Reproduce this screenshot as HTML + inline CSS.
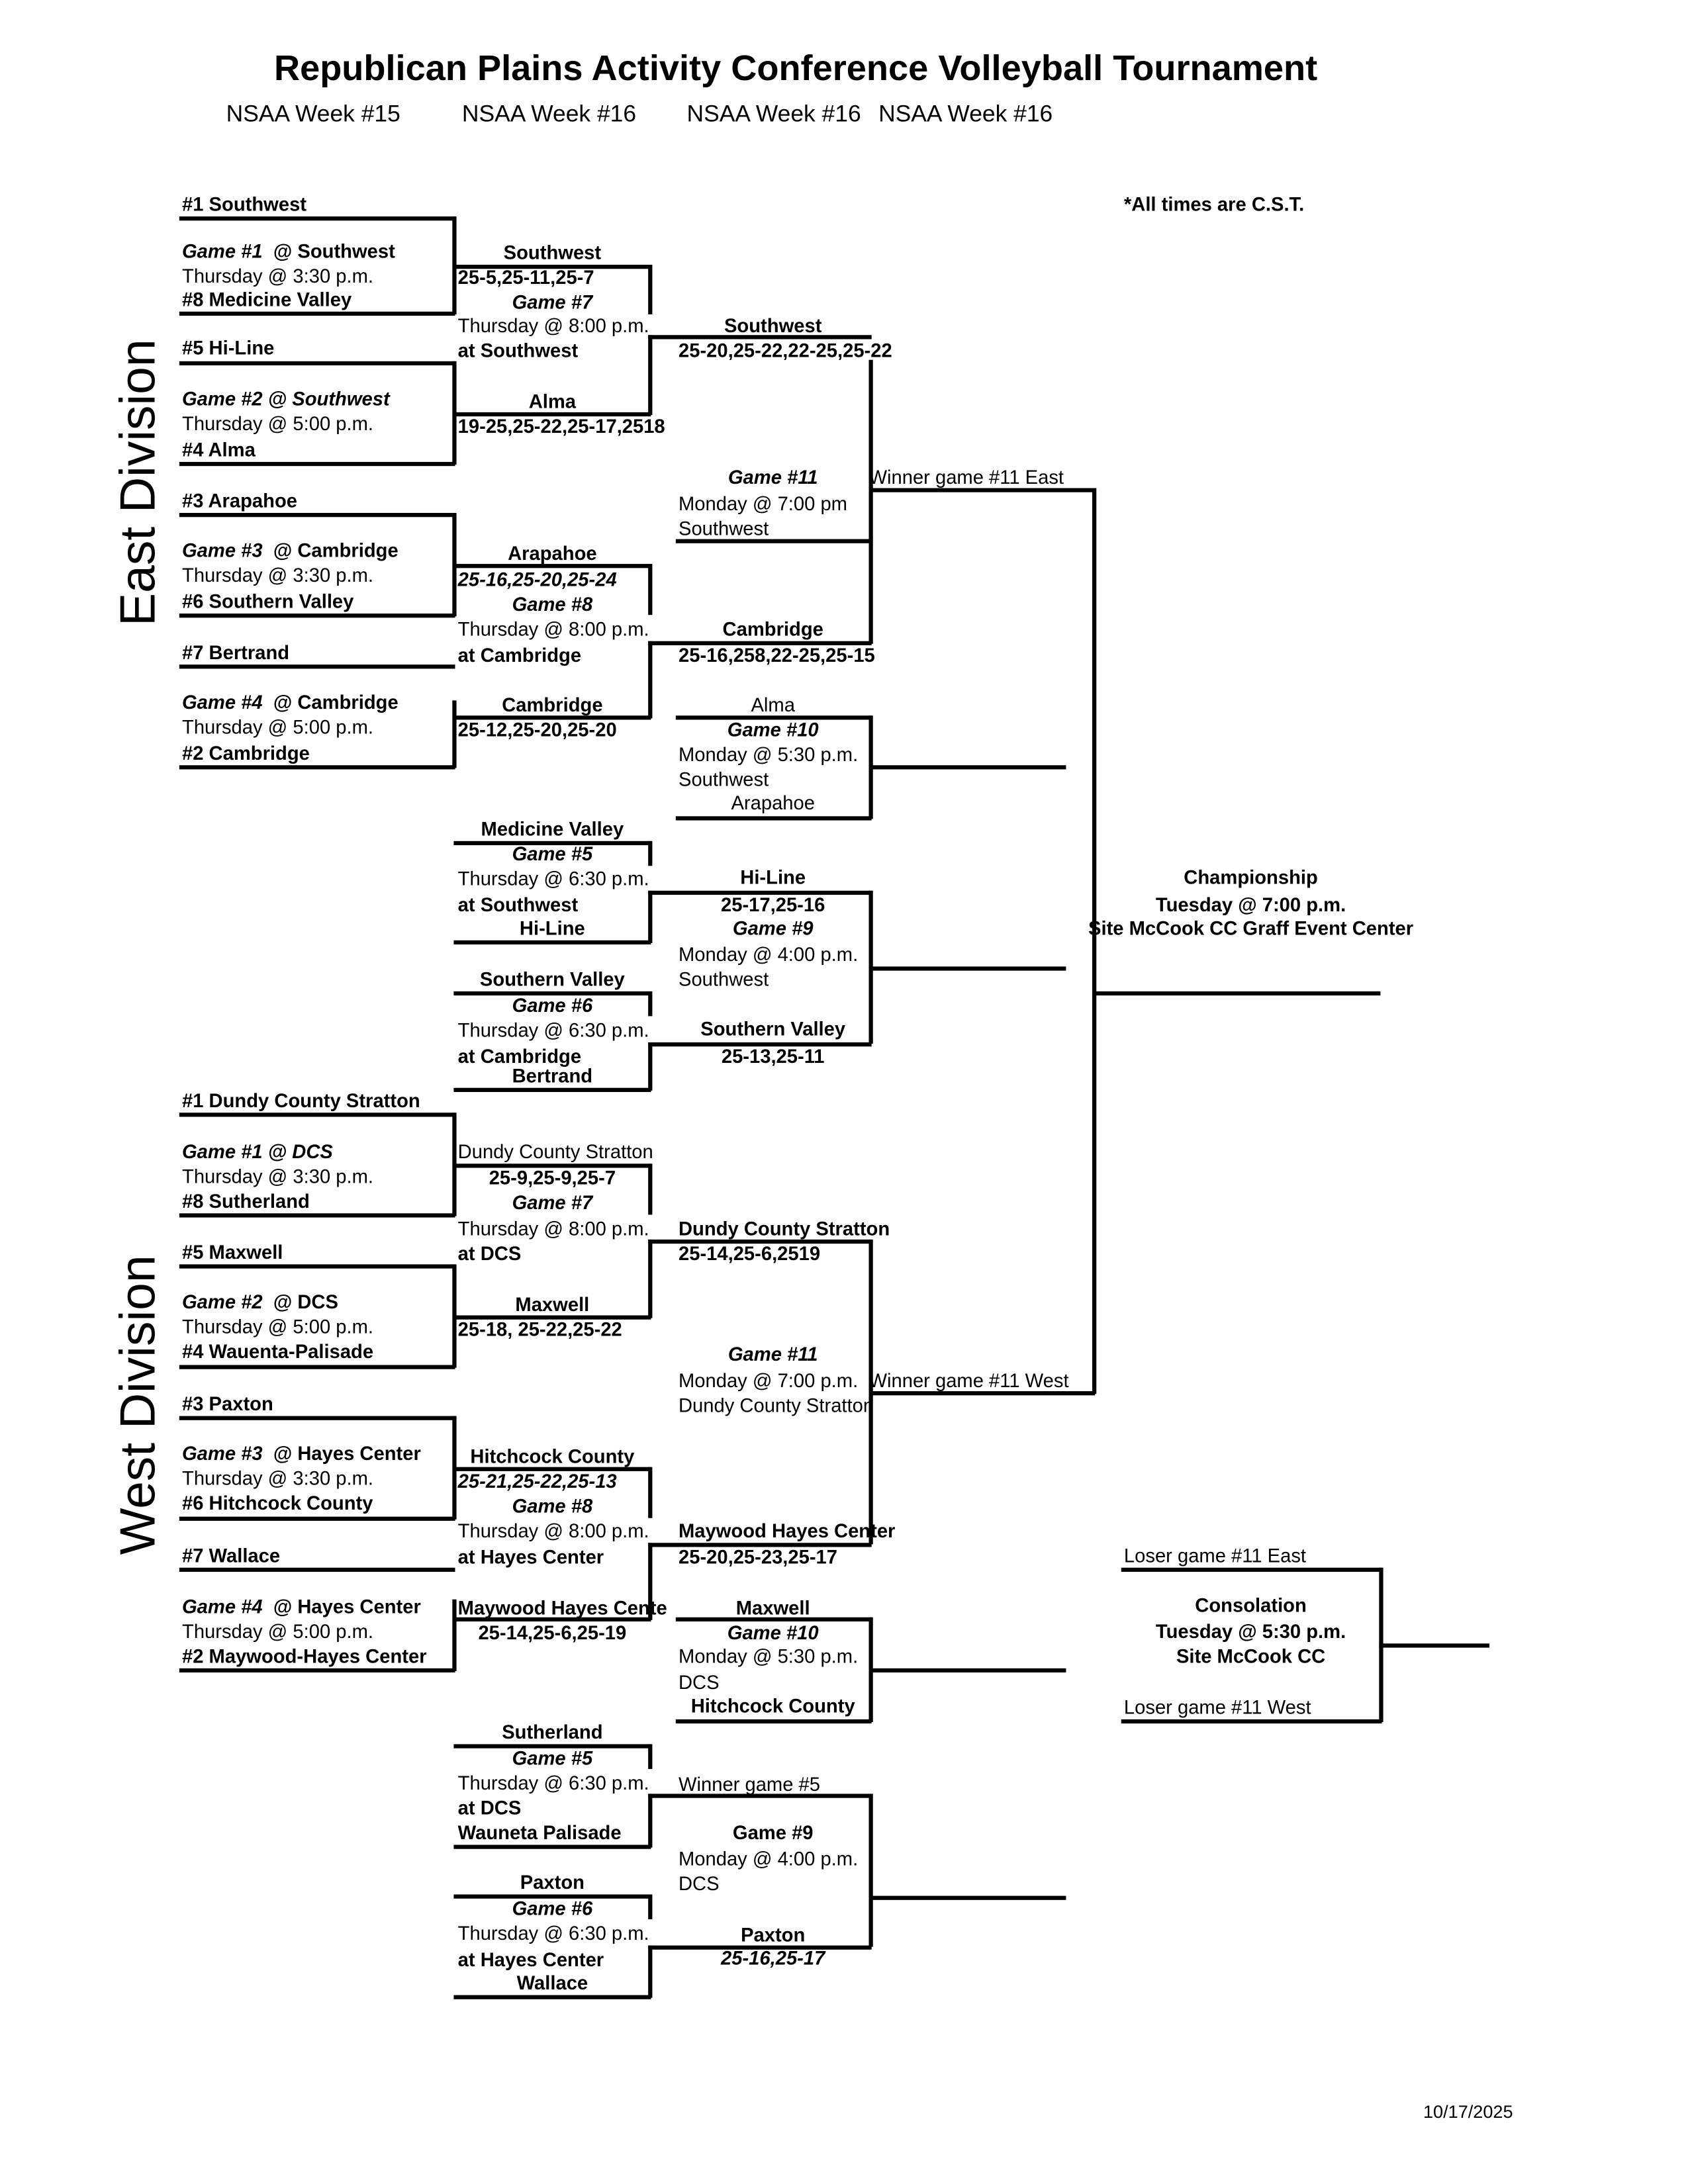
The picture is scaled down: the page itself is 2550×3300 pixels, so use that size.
<!DOCTYPE html>
<html><head><meta charset="utf-8">
<style>
html,body{margin:0;padding:0;background:#fff;}
#page{position:relative;width:2550px;height:3300px;overflow:hidden;background:#fff;}
#s{position:absolute;left:0;top:0;width:1224px;height:1584px;transform:scale(2.08333);transform-origin:0 0;font-family:"Liberation Sans",Arial,sans-serif;color:#000;}
.t{position:absolute;font-size:14px;line-height:18px;white-space:nowrap;}
.b{font-weight:bold;}
.i{font-style:italic;}
.c{text-align:center;}
.h{position:absolute;height:2.6px;background:#000;}
.v{position:absolute;width:2.6px;background:#000;}
</style></head><body><div id="page"><div id="s">

<div class="t b c" style="left:0;width:1154px;top:34px;font-size:26px;line-height:30px;">Republican Plains Activity Conference Volleyball Tournament</div>
<div class="t" style="left:164px;top:73px;font-size:17px;line-height:20px;">NSAA Week #15</div>
<div class="t" style="left:335px;top:73px;font-size:17px;line-height:20px;">NSAA Week #16</div>
<div class="t" style="left:498px;top:73px;font-size:17px;line-height:20px;">NSAA Week #16</div>
<div class="t" style="left:637px;top:73px;font-size:17px;line-height:20px;">NSAA Week #16</div>
<div class="t b" style="left:815px;top:139px;">*All times are C.S.T.</div>
<div class="t" style="left:1032px;top:1523px;font-size:13px;">10/17/2025</div>

<div class="t" style="left:100px;top:350px;font-size:36px;line-height:40px;transform:translate(-50%,-50%) rotate(-90deg);">East Division</div>
<div class="t" style="left:100px;top:1019px;font-size:36px;line-height:40px;transform:translate(-50%,-50%) rotate(-90deg);">West Division</div>

<!-- EAST col1 -->
<div class="t b" style="left:132px;top:139px;">#1 Southwest</div>
<div class="h" style="left:130px;width:200px;top:157px;"></div>
<div class="v" style="left:328px;top:157px;height:71px;"></div>
<div class="t" style="left:132px;top:173px;"><span class="b i">Game #1</span> <span class="b">&nbsp;@ Southwest</span></div>
<div class="t" style="left:132px;top:191px;">Thursday @ 3:30 p.m.</div>
<div class="t b" style="left:132px;top:208px;">#8 Medicine Valley</div>
<div class="h" style="left:130px;width:200px;top:226px;"></div>

<div class="t b" style="left:132px;top:243px;">#5 Hi-Line</div>
<div class="h" style="left:130px;width:200px;top:262px;"></div>
<div class="v" style="left:328px;top:262px;height:75px;"></div>
<div class="t b i" style="left:132px;top:280px;">Game #2 @ Southwest</div>
<div class="t" style="left:132px;top:298px;">Thursday @ 5:00 p.m.</div>
<div class="t b" style="left:132px;top:317px;">#4 Alma</div>
<div class="h" style="left:130px;width:200px;top:335px;"></div>

<div class="t b" style="left:132px;top:354px;">#3 Arapahoe</div>
<div class="h" style="left:130px;width:200px;top:372px;"></div>
<div class="v" style="left:328px;top:372px;height:75px;"></div>
<div class="t" style="left:132px;top:390px;"><span class="b i">Game #3</span> <span class="b">&nbsp;@ Cambridge</span></div>
<div class="t" style="left:132px;top:408px;">Thursday @ 3:30 p.m.</div>
<div class="t b" style="left:132px;top:427px;">#6 Southern Valley</div>
<div class="h" style="left:130px;width:200px;top:445px;"></div>

<div class="t b" style="left:132px;top:464px;">#7 Bertrand</div>
<div class="h" style="left:130px;width:200px;top:482px;"></div>
<div class="v" style="left:328px;top:508px;height:49px;"></div>
<div class="t" style="left:132px;top:500px;"><span class="b i">Game #4</span> <span class="b">&nbsp;@ Cambridge</span></div>
<div class="t" style="left:132px;top:518px;">Thursday @ 5:00 p.m.</div>
<div class="t b" style="left:132px;top:537px;">#2 Cambridge</div>
<div class="h" style="left:130px;width:200px;top:555px;"></div>

<!-- EAST col2 -->
<div class="t b c" style="left:330px;width:141px;top:174px;">Southwest</div>
<div class="h" style="left:329px;width:143px;top:192px;"></div>
<div class="v" style="left:470px;top:192px;height:36px;"></div>
<div class="t b" style="left:332px;top:192px;">25-5,25-11,25-7</div>
<div class="t b i c" style="left:330px;width:141px;top:210px;">Game #7</div>
<div class="t" style="left:332px;top:227px;">Thursday @ 8:00 p.m.</div>
<div class="t b" style="left:332px;top:245px;">at Southwest</div>
<div class="v" style="left:470px;top:243px;height:58px;"></div>
<div class="t b c" style="left:330px;width:141px;top:282px;">Alma</div>
<div class="h" style="left:329px;width:143px;top:299px;"></div>
<div class="t b" style="left:332px;top:300px;">19-25,25-22,25-17,2518</div>

<div class="t b c" style="left:330px;width:141px;top:392px;">Arapahoe</div>
<div class="h" style="left:329px;width:143px;top:409px;"></div>
<div class="v" style="left:470px;top:409px;height:37px;"></div>
<div class="t b i" style="left:332px;top:411px;">25-16,25-20,25-24</div>
<div class="t b i c" style="left:330px;width:141px;top:429px;">Game #8</div>
<div class="t" style="left:332px;top:447px;">Thursday @ 8:00 p.m.</div>
<div class="t b" style="left:332px;top:466px;">at Cambridge</div>
<div class="v" style="left:470px;top:465px;height:56px;"></div>
<div class="t b c" style="left:330px;width:141px;top:502px;">Cambridge</div>
<div class="h" style="left:329px;width:143px;top:519px;"></div>
<div class="t b" style="left:332px;top:520px;">25-12,25-20,25-20</div>

<div class="t b c" style="left:330px;width:141px;top:592px;">Medicine Valley</div>
<div class="h" style="left:329px;width:143px;top:610px;"></div>
<div class="v" style="left:470px;top:610px;height:18px;"></div>
<div class="t b i c" style="left:330px;width:141px;top:610px;">Game #5</div>
<div class="t" style="left:332px;top:628px;">Thursday @ 6:30 p.m.</div>
<div class="t b" style="left:332px;top:647px;">at Southwest</div>
<div class="v" style="left:470px;top:646px;height:38px;"></div>
<div class="t b c" style="left:330px;width:141px;top:664px;">Hi-Line</div>
<div class="h" style="left:329px;width:143px;top:682px;"></div>

<div class="t b c" style="left:330px;width:141px;top:701px;">Southern Valley</div>
<div class="h" style="left:329px;width:143px;top:719px;"></div>
<div class="v" style="left:470px;top:719px;height:18px;"></div>
<div class="t b i c" style="left:330px;width:141px;top:720px;">Game #6</div>
<div class="t" style="left:332px;top:738px;">Thursday @ 6:30 p.m.</div>
<div class="t b" style="left:332px;top:757px;">at Cambridge</div>
<div class="v" style="left:470px;top:756px;height:35px;"></div>
<div class="t b c" style="left:330px;width:141px;top:771px;">Bertrand</div>
<div class="h" style="left:329px;width:143px;top:789px;"></div>

<!-- EAST col3 -->
<div class="t b c" style="left:490px;width:141px;top:227px;">Southwest</div>
<div class="h" style="left:470px;width:162px;top:243px;"></div>
<div class="t b" style="left:492px;top:245px;">25-20,25-22,22-25,25-22</div>
<div class="v" style="left:630px;top:261px;height:206px;"></div>
<div class="t b i c" style="left:490px;width:141px;top:337px;">Game #11</div>
<div class="t" style="left:492px;top:356px;">Monday @ 7:00 pm</div>
<div class="t" style="left:492px;top:374px;">Southwest</div>
<div class="h" style="left:490px;width:142px;top:391px;"></div>
<div class="t b c" style="left:490px;width:141px;top:447px;">Cambridge</div>
<div class="h" style="left:470px;width:162px;top:465px;"></div>
<div class="t b" style="left:492px;top:466px;">25-16,258,22-25,25-15</div>

<div class="t" style="left:630px;top:337px;">Winner game #11 East</div>
<div class="h" style="left:630px;width:164px;top:354px;"></div>
<div class="v" style="left:792px;top:354px;height:657px;"></div>
<div class="t" style="left:630px;top:992px;">Winner game #11 West</div>
<div class="h" style="left:630px;width:164px;top:1009px;"></div>

<div class="t b c" style="left:780px;width:254px;top:627px;">Championship</div>
<div class="t b c" style="left:780px;width:254px;top:647px;">Tuesday @ 7:00 p.m.</div>
<div class="t b c" style="left:780px;width:254px;top:664px;">Site McCook CC Graff Event Center</div>
<div class="h" style="left:792px;width:209px;top:719px;"></div>

<div class="t c" style="left:490px;width:141px;top:502px;">Alma</div>
<div class="h" style="left:490px;width:142px;top:519px;"></div>
<div class="v" style="left:630px;top:519px;height:75px;"></div>
<div class="t b i c" style="left:490px;width:141px;top:520px;">Game #10</div>
<div class="t" style="left:492px;top:538px;">Monday @ 5:30 p.m.</div>
<div class="t" style="left:492px;top:556px;">Southwest</div>
<div class="t c" style="left:490px;width:141px;top:573px;">Arapahoe</div>
<div class="h" style="left:490px;width:142px;top:592px;"></div>
<div class="h" style="left:630px;width:143px;top:555px;"></div>

<div class="t b c" style="left:490px;width:141px;top:627px;">Hi-Line</div>
<div class="h" style="left:470px;width:162px;top:646px;"></div>
<div class="v" style="left:630px;top:646px;height:111px;"></div>
<div class="t b c" style="left:490px;width:141px;top:647px;">25-17,25-16</div>
<div class="t b i c" style="left:490px;width:141px;top:664px;">Game #9</div>
<div class="t" style="left:492px;top:683px;">Monday @ 4:00 p.m.</div>
<div class="t" style="left:492px;top:701px;">Southwest</div>
<div class="t b c" style="left:490px;width:141px;top:737px;">Southern Valley</div>
<div class="h" style="left:470px;width:162px;top:756px;"></div>
<div class="t b c" style="left:490px;width:141px;top:757px;">25-13,25-11</div>
<div class="h" style="left:630px;width:143px;top:701px;"></div>

<!-- WEST col1 -->
<div class="t b" style="left:132px;top:789px;">#1 Dundy County Stratton</div>
<div class="h" style="left:130px;width:200px;top:807px;"></div>
<div class="v" style="left:328px;top:807px;height:75px;"></div>
<div class="t b i" style="left:132px;top:826px;">Game #1 @ DCS</div>
<div class="t" style="left:132px;top:844px;">Thursday @ 3:30 p.m.</div>
<div class="t b" style="left:132px;top:862px;">#8 Sutherland</div>
<div class="h" style="left:130px;width:200px;top:880px;"></div>

<div class="t b" style="left:132px;top:899px;">#5 Maxwell</div>
<div class="h" style="left:130px;width:200px;top:917px;"></div>
<div class="v" style="left:328px;top:917px;height:75px;"></div>
<div class="t" style="left:132px;top:935px;"><span class="b i">Game #2</span> <span class="b">&nbsp;@ DCS</span></div>
<div class="t" style="left:132px;top:953px;">Thursday @ 5:00 p.m.</div>
<div class="t b" style="left:132px;top:971px;">#4 Wauenta-Palisade</div>
<div class="h" style="left:130px;width:200px;top:990px;"></div>

<div class="t b" style="left:132px;top:1009px;">#3 Paxton</div>
<div class="h" style="left:130px;width:200px;top:1027px;"></div>
<div class="v" style="left:328px;top:1027px;height:75px;"></div>
<div class="t" style="left:132px;top:1045px;"><span class="b i">Game #3</span> <span class="b">&nbsp;@ Hayes Center</span></div>
<div class="t" style="left:132px;top:1063px;">Thursday @ 3:30 p.m.</div>
<div class="t b" style="left:132px;top:1081px;">#6 Hitchcock County</div>
<div class="h" style="left:130px;width:200px;top:1100px;"></div>

<div class="t b" style="left:132px;top:1119px;">#7 Wallace</div>
<div class="h" style="left:130px;width:200px;top:1137px;"></div>
<div class="v" style="left:328px;top:1160px;height:52px;"></div>
<div class="t" style="left:132px;top:1156px;"><span class="b i">Game #4</span> <span class="b">&nbsp;@ Hayes Center</span></div>
<div class="t" style="left:132px;top:1174px;">Thursday @ 5:00 p.m.</div>
<div class="t b" style="left:132px;top:1192px;">#2 Maywood-Hayes Center</div>
<div class="h" style="left:130px;width:200px;top:1210px;"></div>

<!-- WEST col2 -->
<div class="t" style="left:332px;top:826px;">Dundy County Stratton</div>
<div class="h" style="left:329px;width:143px;top:844px;"></div>
<div class="v" style="left:470px;top:844px;height:37px;"></div>
<div class="t b c" style="left:330px;width:141px;top:845px;">25-9,25-9,25-7</div>
<div class="t b i c" style="left:330px;width:141px;top:863px;">Game #7</div>
<div class="t" style="left:332px;top:882px;">Thursday @ 8:00 p.m.</div>
<div class="t b" style="left:332px;top:900px;">at DCS</div>
<div class="v" style="left:470px;top:899px;height:57px;"></div>
<div class="t b c" style="left:330px;width:141px;top:937px;">Maxwell</div>
<div class="h" style="left:329px;width:143px;top:954px;"></div>
<div class="t b" style="left:332px;top:955px;">25-18, 25-22,25-22</div>

<div class="t b c" style="left:330px;width:141px;top:1047px;">Hitchcock County</div>
<div class="h" style="left:329px;width:143px;top:1064px;"></div>
<div class="v" style="left:470px;top:1064px;height:37px;"></div>
<div class="t b i" style="left:332px;top:1065px;">25-21,25-22,25-13</div>
<div class="t b i c" style="left:330px;width:141px;top:1083px;">Game #8</div>
<div class="t" style="left:332px;top:1101px;">Thursday @ 8:00 p.m.</div>
<div class="t b" style="left:332px;top:1120px;">at Hayes Center</div>
<div class="v" style="left:470px;top:1119px;height:56px;"></div>
<div class="t b" style="left:332px;top:1157px;">Maywood Hayes Cente</div>
<div class="h" style="left:329px;width:143px;top:1173px;"></div>
<div class="t b c" style="left:330px;width:141px;top:1175px;">25-14,25-6,25-19</div>

<div class="t b c" style="left:330px;width:141px;top:1247px;">Sutherland</div>
<div class="h" style="left:329px;width:143px;top:1265px;"></div>
<div class="v" style="left:470px;top:1265px;height:18px;"></div>
<div class="t b i c" style="left:330px;width:141px;top:1266px;">Game #5</div>
<div class="t" style="left:332px;top:1284px;">Thursday @ 6:30 p.m.</div>
<div class="t b" style="left:332px;top:1302px;">at DCS</div>
<div class="t b" style="left:332px;top:1320px;">Wauneta Palisade</div>
<div class="v" style="left:470px;top:1301px;height:39px;"></div>
<div class="h" style="left:329px;width:143px;top:1338px;"></div>

<div class="t b c" style="left:330px;width:141px;top:1356px;">Paxton</div>
<div class="h" style="left:329px;width:143px;top:1374px;"></div>
<div class="v" style="left:470px;top:1374px;height:18px;"></div>
<div class="t b i c" style="left:330px;width:141px;top:1375px;">Game #6</div>
<div class="t" style="left:332px;top:1393px;">Thursday @ 6:30 p.m.</div>
<div class="t b" style="left:332px;top:1412px;">at Hayes Center</div>
<div class="v" style="left:470px;top:1411px;height:38px;"></div>
<div class="t b c" style="left:330px;width:141px;top:1429px;">Wallace</div>
<div class="h" style="left:329px;width:143px;top:1447px;"></div>

<!-- WEST col3 -->
<div class="t b" style="left:492px;top:882px;">Dundy County Stratton</div>
<div class="h" style="left:470px;width:162px;top:899px;"></div>
<div class="t b" style="left:492px;top:900px;">25-14,25-6,2519</div>
<div class="v" style="left:630px;top:899px;height:221px;"></div>
<div class="t b i c" style="left:490px;width:141px;top:973px;">Game #11</div>
<div class="t" style="left:492px;top:992px;">Monday @ 7:00 p.m.</div>
<div class="t" style="left:492px;top:1010px;">Dundy County Stratton</div>
<div class="t b" style="left:492px;top:1101px;">Maywood Hayes Center</div>
<div class="h" style="left:470px;width:162px;top:1119px;"></div>
<div class="t b" style="left:492px;top:1120px;">25-20,25-23,25-17</div>

<div class="t b c" style="left:490px;width:141px;top:1157px;">Maxwell</div>
<div class="h" style="left:490px;width:142px;top:1173px;"></div>
<div class="v" style="left:630px;top:1173px;height:76px;"></div>
<div class="t b i c" style="left:490px;width:141px;top:1175px;">Game #10</div>
<div class="t" style="left:492px;top:1192px;">Monday @ 5:30 p.m.</div>
<div class="t" style="left:492px;top:1211px;">DCS</div>
<div class="t b c" style="left:490px;width:141px;top:1228px;">Hitchcock County</div>
<div class="h" style="left:490px;width:142px;top:1247px;"></div>
<div class="h" style="left:630px;width:143px;top:1210px;"></div>

<div class="t" style="left:492px;top:1285px;">Winner game #5</div>
<div class="h" style="left:470px;width:162px;top:1301px;"></div>
<div class="v" style="left:630px;top:1301px;height:111px;"></div>
<div class="t b c" style="left:490px;width:141px;top:1320px;">Game #9</div>
<div class="t" style="left:492px;top:1339px;">Monday @ 4:00 p.m.</div>
<div class="t" style="left:492px;top:1357px;">DCS</div>
<div class="t b c" style="left:490px;width:141px;top:1394px;">Paxton</div>
<div class="h" style="left:470px;width:162px;top:1411px;"></div>
<div class="t b i c" style="left:490px;width:141px;top:1411px;">25-16,25-17</div>
<div class="h" style="left:630px;width:143px;top:1375px;"></div>

<!-- Consolation -->
<div class="t" style="left:815px;top:1119px;">Loser game #11 East</div>
<div class="h" style="left:813px;width:189px;top:1137px;"></div>
<div class="v" style="left:1000px;top:1137px;height:112px;"></div>
<div class="t b c" style="left:813px;width:188px;top:1155px;">Consolation</div>
<div class="t b c" style="left:813px;width:188px;top:1174px;">Tuesday @ 5:30 p.m.</div>
<div class="t b c" style="left:813px;width:188px;top:1192px;">Site McCook CC</div>
<div class="t" style="left:815px;top:1229px;">Loser game #11 West</div>
<div class="h" style="left:813px;width:189px;top:1247px;"></div>
<div class="h" style="left:1000px;width:80px;top:1192px;"></div>

</div></div></body></html>
